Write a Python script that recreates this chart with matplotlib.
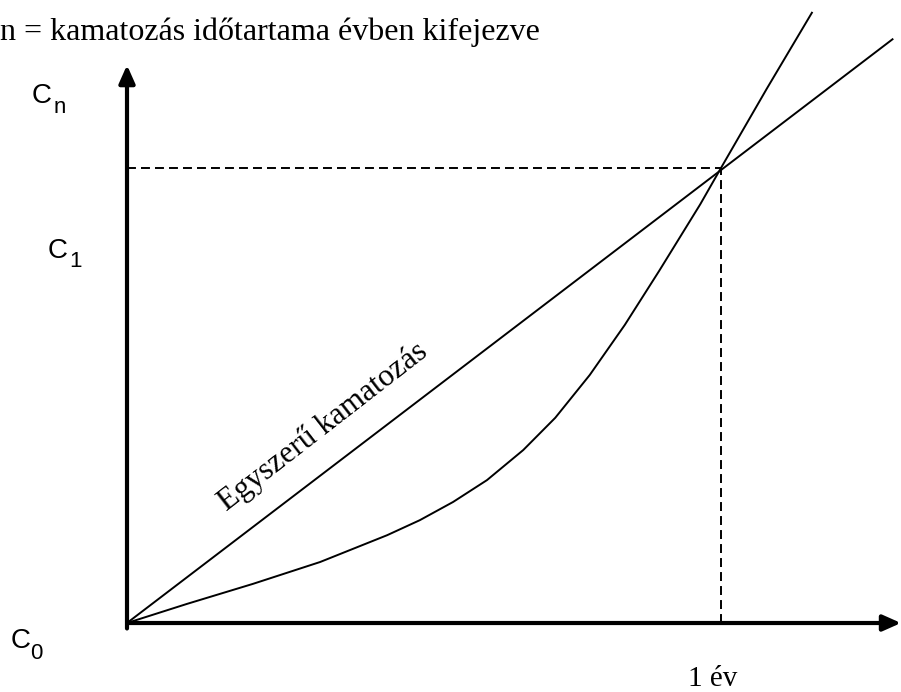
import matplotlib
matplotlib.use("Agg")
import matplotlib.pyplot as plt

# time in years, value normalised so that C at 1 year = 1
curve_t = [0.0, 0.101, 0.212, 0.325, 0.438, 0.493, 0.549, 0.606, 0.667, 0.721,
           0.779, 0.838, 0.896, 0.965, 1.0, 1.077, 1.153]
curve_v = [0.0, 0.042, 0.086, 0.134, 0.193, 0.226, 0.266, 0.314, 0.380, 0.451,
           0.545, 0.655, 0.774, 0.920, 1.0, 1.174, 1.341]
line_t = [0.0, 1.29]
line_v = [0.0, 1.284]
one_year = 1.0
c_one_year = 1.0

title_txt = "n = kamatozás időtartama évben kifejezve"
line_label = "Egyszerű kamatozás"
year_label = "1 év"
c_labels = [("C", "n"), ("C", "1"), ("C", "0")]

fig = plt.figure(figsize=(9.01, 6.92), dpi=100)
ax = fig.add_axes([0, 0, 1, 1])
ax.set_xlim(-0.2138, 1.303)
ax.set_ylim(-0.1516, 1.369)
ax.axis("off")

# axes with arrow heads
arrow = dict(arrowstyle="-|>,head_length=0.9,head_width=0.4", lw=3.0, color="black",
             shrinkA=0, shrinkB=0, mutation_scale=12)
ax.annotate("", xy=(0, 1.226), xytext=(0, -0.012), arrowprops=arrow)
ax.annotate("", xy=(1.303, 0), xytext=(0, 0), arrowprops=arrow)

ax.plot(line_t, line_v, color="black", lw=1.4, solid_capstyle="butt")
ax.plot(curve_t, curve_v, color="black", lw=1.4, solid_joinstyle="round")

ax.plot([0, one_year], [c_one_year, c_one_year], color="black", lw=1.4, dashes=(4.6, 2.6))
ax.plot([one_year, one_year], [0, c_one_year], color="black", lw=1.4, dashes=(4.6, 2.6))

serif = ["Liberation Serif", "DejaVu Serif"]
ax.text(-0.2138, 1.369 - 40 / 455, title_txt, family=serif, fontsize=23,
        ha="left", va="baseline")
ax.text(one_year - 0.055, -0.138, year_label, family=serif, fontsize=21,
        ha="left", va="baseline")
ax.text(0.339, 0.418, line_label, family=serif, fontsize=22.5, rotation=37.8,
        rotation_mode="anchor", ha="center", va="baseline")

sans = ["Liberation Sans", "DejaVu Sans"]
c_pos = [(-0.160, 1.143), (-0.133, 0.802), (-0.196, -0.055)]
sub_pos = [(-0.124, 1.121), (-0.098, 0.782), (-0.163, -0.079)]
for (main, sub), (mx, my), (sx, sy) in zip(c_labels, c_pos, sub_pos):
    ax.text(mx, my, main, family=sans, fontsize=20, ha="left", va="baseline")
    ax.text(sx, sy, sub, family=sans, fontsize=16, ha="left", va="baseline")

fig.savefig("out.png", dpi=100)
